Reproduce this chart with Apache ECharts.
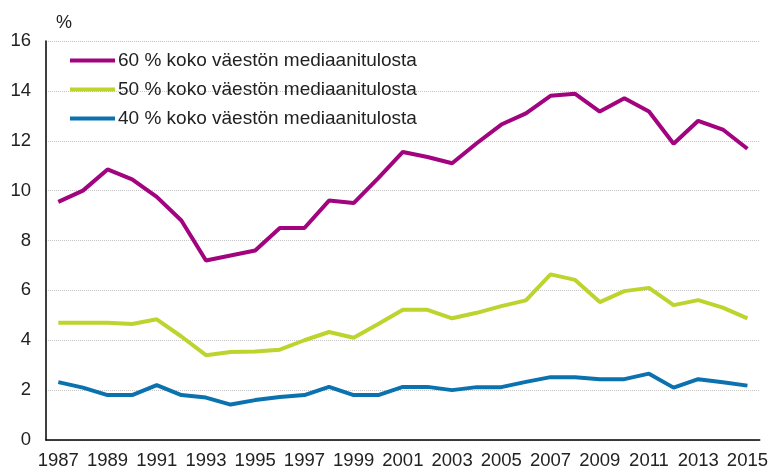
<!DOCTYPE html>
<html>
<head>
<meta charset="utf-8">
<script src="https://cdn.jsdelivr.net/npm/echarts@6/dist/echarts.min.js"></script>
<style>html,body{margin:0;padding:0;background:#fff}#c{width:771px;height:470px}</style>
</head>
<body>
<div id="c"></div>
<script>
var years = ['1987','1988','1989','1990','1991','1992','1993','1994','1995','1996','1997','1998','1999','2000','2001','2002','2003','2004','2005','2006','2007','2008','2009','2010','2011','2012','2013','2014','2015'];
var s60 = [9.55,10.0,10.85,10.45,9.75,8.8,7.2,7.4,7.6,8.5,8.5,9.6,9.5,10.5,11.55,11.35,11.1,11.9,12.65,13.1,13.8,13.88,13.17,13.7,13.17,11.88,12.8,12.45,11.68];
var s50 = [4.7,4.7,4.7,4.65,4.84,4.15,3.4,3.53,3.55,3.62,4.0,4.33,4.1,4.65,5.22,5.22,4.88,5.1,5.37,5.6,6.64,6.42,5.53,5.97,6.1,5.41,5.61,5.31,4.88];
var s40 = [2.32,2.1,1.8,1.8,2.2,1.8,1.7,1.42,1.6,1.72,1.8,2.13,1.8,1.8,2.13,2.13,2.0,2.12,2.12,2.33,2.52,2.52,2.44,2.44,2.66,2.1,2.44,2.32,2.18];
var names = ['60 % koko väestön mediaanitulosta','50 % koko väestön mediaanitulosta','40 % koko väestön mediaanitulosta'];
var colors = ['#A2037E','#BED42E','#0B72B0'];
var yTicks = {min:0, max:16, interval:2};

var chart = echarts.init(document.getElementById('c'), null, {renderer:'canvas'});
var font = 'Arial, "Liberation Sans", sans-serif';
function mk(i, data){
  return {name:names[i], type:'line', data:data, symbol:'none', lineStyle:{width:4, color:colors[i]}, itemStyle:{color:colors[i]}};
}
chart.setOption({
  animation:false,
  textStyle:{fontFamily:font},
  color:colors,
  grid:{left:46, right:11, top:41, bottom:29, containLabel:false},
  legend:{
    orient:'vertical', left:70, top:51, padding:0, icon:'rect', itemWidth:45, itemHeight:4, itemGap:10,
    textStyle:{fontFamily:font, fontSize:19, color:'#222', padding:[0,0,0,-2]},
    data:names
  },
  xAxis:{
    type:'category', data:years, boundaryGap:true,
    axisLine:{show:true, lineStyle:{color:'#000', width:1.5}},
    axisTick:{show:false},
    axisLabel:{interval:1, fontSize:18.5, color:'#222', fontFamily:font, margin:11},
    splitLine:{show:false}
  },
  yAxis:{
    type:'value', min:yTicks.min, max:yTicks.max, interval:yTicks.interval,
    name:'%', nameLocation:'end', nameGap:9,
    nameTextStyle:{fontSize:18, color:'#222', fontFamily:font, align:'left', padding:[0,0,0,10]},
    axisLine:{show:true, lineStyle:{color:'#000', width:1.5}},
    axisTick:{show:false},
    axisLabel:{fontSize:18.5, color:'#222', fontFamily:font, margin:15},
    splitLine:{show:true, lineStyle:{color:'#c4c4c4', type:'dotted', width:1}}
  },
  series:[mk(0,s60), mk(1,s50), mk(2,s40)]
});
</script>
</body>
</html>
